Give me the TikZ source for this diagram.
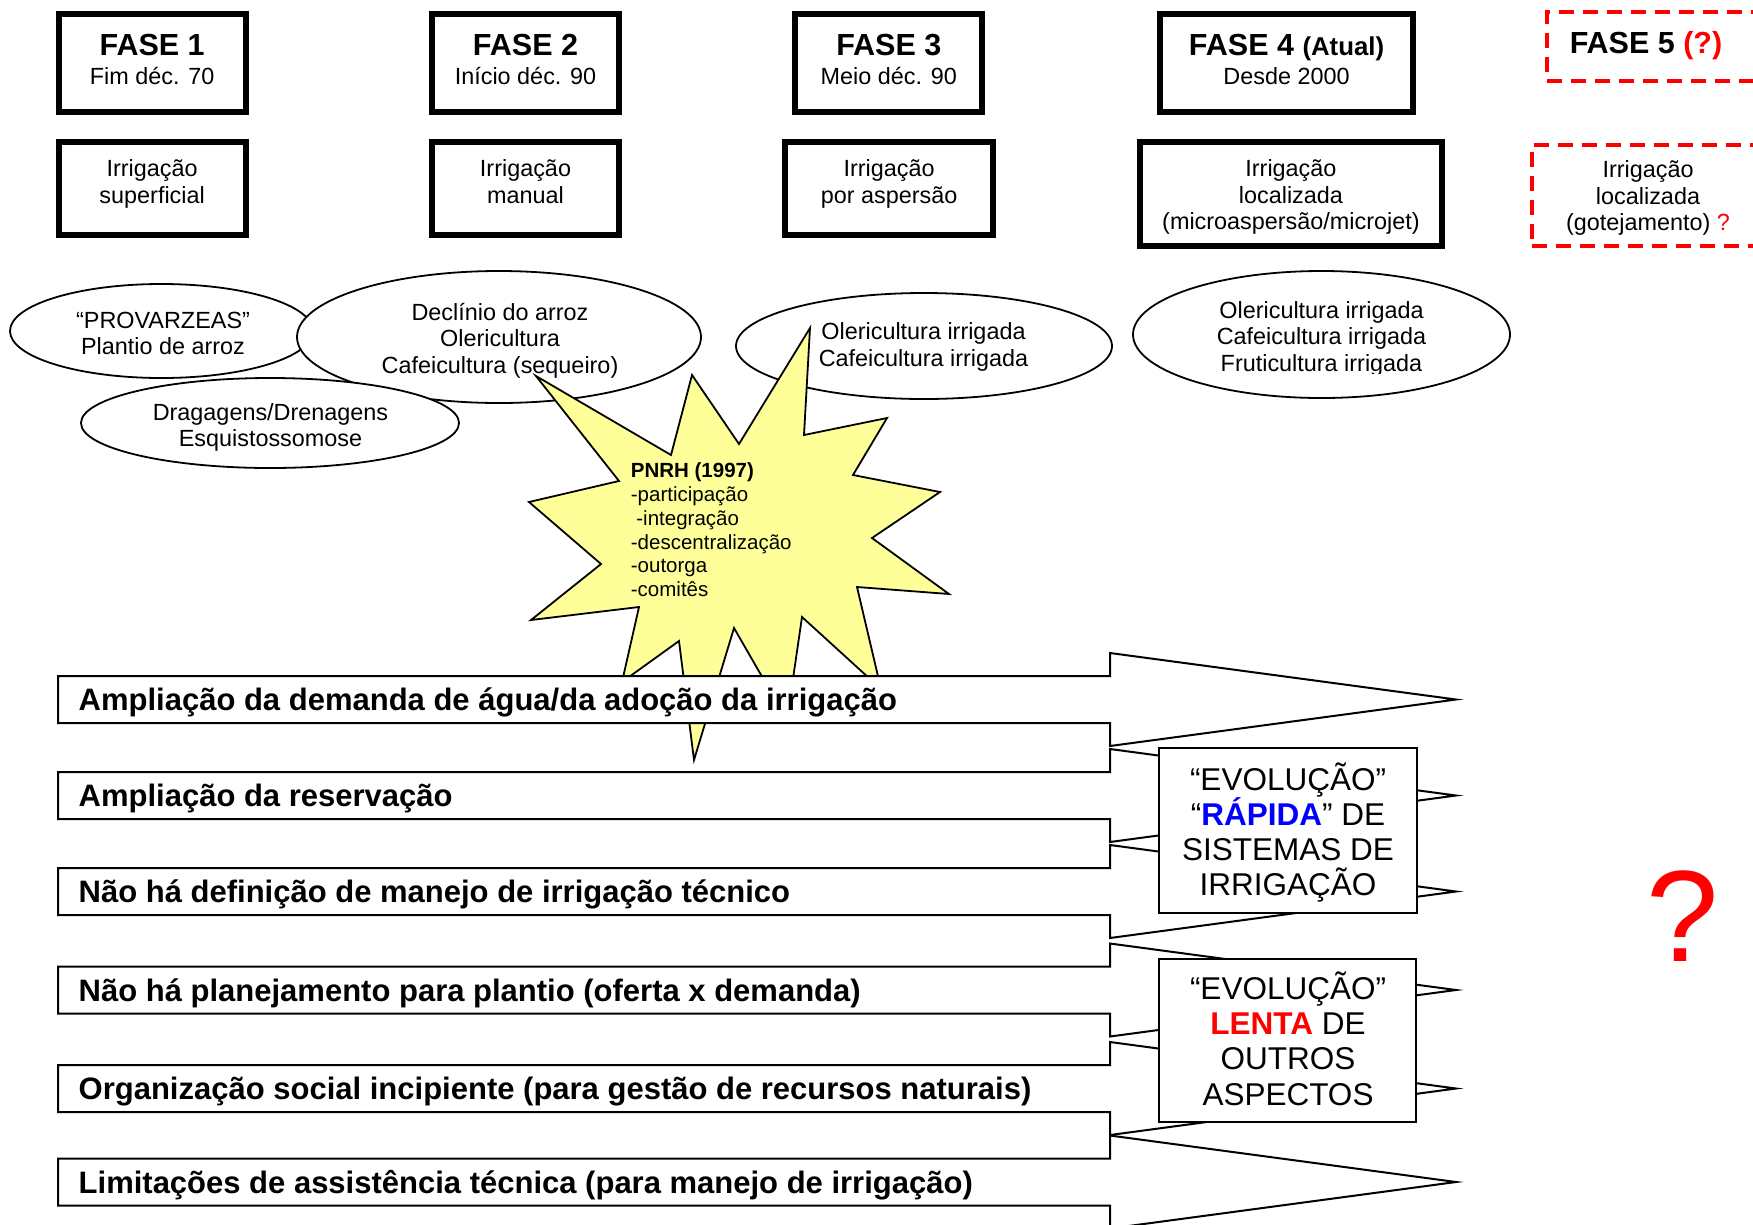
\documentclass[tikz,border=0pt]{standalone}
\usepackage{fontspec}
\setmainfont{Liberation Sans}
\usetikzlibrary{shapes.geometric}
\definecolor{burstfill}{RGB}{255,255,153}
\definecolor{alertred}{RGB}{255,0,0}
\definecolor{fastblue}{RGB}{0,0,255}
% font size helper (sizes in pt)
\newcommand\fsz[2]{\fontsize{#1pt}{#2pt}\selectfont}
% stacked lines, centred or left aligned, whose baseline is that of the first line
\newcommand\cstack[1]{\vtop{\lineskiplimit=-1000pt\halign{\hfil##\hfil\cr#1\crcr}}}
\newcommand\lstack[1]{\vtop{\lineskiplimit=-1000pt\halign{##\hfil\cr#1\crcr}}}
\tikzset{
  phasebox/.style={draw, line width=6pt, inner sep=0pt},
  futurebox/.style={draw=alertred, line width=4pt, dash pattern=on 15pt off 9pt, inner sep=0pt},
  bubble/.style={ellipse, draw, line width=1.8pt, fill=white, inner sep=0pt},
  burstshape/.style={draw, line width=1.8pt, fill=burstfill, line join=miter, miter limit=6},
  barshape/.style={draw, line width=2pt, fill=white, line join=miter},
  evobox/.style={draw, line width=2pt, fill=white, inner sep=0pt},
  txt/.style={inner sep=0pt, anchor=base},
  phasetext/.style={txt, font=\fsz{23.4}{29}},
  boxtext/.style={txt, font=\fsz{23.4}{26.6}},
  bubbletext/.style={txt, font=\fsz{23.4}{26.6}},
  bursttext/.style={inner sep=0pt, anchor=base west, font=\fsz{20.5}{23.8}},
  bartext/.style={inner sep=0pt, anchor=base west, font=\fsz{31}{36}\bfseries},
  evotext/.style={txt, font=\fsz{31.5}{35.3}},
}
% long arrow with its caption: #1 centre line, #2 node name, #3 caption
\newcommand\drawbar[3]{%
  \draw[barshape] (58,#1-23.5) -- (1110,#1-23.5) -- (1110,#1-46.5) -- (1456,#1)
    -- (1110,#1+46.5) -- (1110,#1+23.5) -- (58,#1+23.5) -- cycle;
  \node[bartext] (#2) at (78.5,#1+11) {#3};}
\begin{document}
\begin{tikzpicture}[x=1pt,y=-1pt]
\useasboundingbox (0,0) rectangle (1753,1224);
\clip (0,0) rectangle (1753,1224);

% phase headers
\node[phasebox, minimum width=186.9pt, minimum height=98pt] (b1) at (152.15,63) {};
\node[phasebox, minimum width=186.9pt, minimum height=98pt] (b2) at (525.5,63) {};
\node[phasebox, minimum width=186.9pt, minimum height=98pt] (b3) at (888.8,63) {};
\node[phasebox, minimum width=252.5pt, minimum height=98pt] (b4) at (1286.55,63) {};
\node[futurebox, minimum width=243pt, minimum height=69pt] (b5) at (1668.5,46.5) {};
\node[phasetext] (b1t) at (152.15,55) {\cstack{{\fsz{30.5}{34}\bfseries FASE 1}\cr Fim déc. 70}};
\node[phasetext] (b2t) at (525.5,55) {\cstack{{\fsz{30.5}{34}\bfseries FASE 2}\cr Início déc. 90}};
\node[phasetext] (b3t) at (888.8,55) {\cstack{{\fsz{30.5}{34}\bfseries FASE 3}\cr Meio déc. 90}};
\node[phasetext] (b4t) at (1286.55,55) {\cstack{{\fsz{30.5}{34}\bfseries FASE 4 {\fsz{25.8}{30}(Atual)}}\cr Desde 2000}};
\node[txt, font=\fsz{30.5}{34}\bfseries] (b5t) at (1646,53) {FASE 5 {\color{alertred}(?)}};

% irrigation systems
\node[phasebox, minimum width=186.9pt, minimum height=93pt] (c1) at (152.15,188.8) {};
\node[phasebox, minimum width=186.9pt, minimum height=93pt] (c2) at (525.5,188.8) {};
\node[phasebox, minimum width=207.4pt, minimum height=93pt] (c3) at (889.1,188.8) {};
\node[phasebox, minimum width=302.5pt, minimum height=104pt] (c4) at (1290.95,194.3) {};
\node[futurebox, minimum width=258pt, minimum height=101pt] (c5) at (1661,195.5) {};
\node[boxtext] (c1t) at (152.15,176.5) {\cstack{Irrigação\cr superficial}};
\node[boxtext] (c2t) at (525.5,176.5) {\cstack{Irrigação\cr manual}};
\node[boxtext] (c3t) at (889.1,176.5) {\cstack{Irrigação\cr por aspersão}};
\node[boxtext] (c4t) at (1290.95,176.5) {\cstack{Irrigação\cr localizada\cr (microaspersão/microjet)}};
\node[boxtext] (c5t) at (1648,177.5) {\cstack{Irrigação\cr localizada\cr (gotejamento) {\color{alertred}?}}};

% crops and events
\node[bubble, minimum width=303pt, minimum height=94pt] (e1) at (161.5,331) {};
\node[bubbletext] (e1t) at (163,328) {\cstack{“PROVARZEAS”\cr Plantio de arroz}};
\node[bubble, minimum width=404pt, minimum height=132pt] (e2) at (499,337) {};
\node[bubbletext] (e2t) at (500,320) {\cstack{Declínio do arroz\cr Olericultura\cr Cafeicultura (sequeiro)}};
\node[bubble, minimum width=378pt, minimum height=90pt] (e3) at (270,423) {};
\node[bubbletext] (e3t) at (270.5,420) {\cstack{Dragagens/Drenagens\cr Esquistossomose}};
\node[bubble, minimum width=376pt, minimum height=106pt] (e4) at (924,346) {};
\node[bubbletext] (e4t) at (923.5,339.5) {\cstack{Olericultura irrigada\cr Cafeicultura irrigada}};
\node[bubble, minimum width=377pt, minimum height=127pt] (e5) at (1321.5,334.5) {};
\begin{scope}
  \clip (1130,290) rectangle (1515,373.5);
  \node[bubbletext] (e5t) at (1321.5,318.3) {\cstack{Olericultura irrigada\cr Cafeicultura irrigada\cr Fruticultura irrigada}};
\end{scope}

% water policy burst
\draw[burstshape] (536,376) -- (671,455) -- (692,375) -- (739,444) -- (810,328)
  -- (804,435) -- (887,418) -- (853,475) -- (940,492) -- (872,538) -- (949,594)
  -- (857,587) -- (881,689) -- (802,617) -- (787,720) -- (734,628) -- (694,760)
  -- (679,641) -- (622,682) -- (639,607) -- (531,620) -- (601,564) -- (529,502)
  -- (619,481) -- cycle;
\node[bursttext] (pnrh) at (630.7,477.7) {\lstack{\textbf{PNRH (1997)}\cr -participação\cr \kern5.5pt-integração\cr -descentralização\cr -outorga\cr -comitês}};

% trends
\drawbar{699.5}{r1}{Ampliação da demanda de água/da adoção da irrigação}
\drawbar{795.5}{r2}{Ampliação da reservação}
\drawbar{891.5}{r3}{Não há definição de manejo de irrigação técnico}
\drawbar{990}{r4}{Não há planejamento para plantio (oferta x demanda)}
\drawbar{1088.5}{r5}{Organização social incipiente (para gestão de recursos naturais)}
\drawbar{1182}{r6}{Limitações de assistência técnica (para manejo de irrigação)}

% pace of change
\node[evobox, minimum width=257.7pt, minimum height=165pt] (fast) at (1287.85,830.8) {};
\node[evotext] (fastt) at (1288,790) {\cstack{“EVOLUÇÃO”\cr “{\bfseries\color{fastblue}RÁPIDA}” DE\cr SISTEMAS DE\cr IRRIGAÇÃO}};
\node[evobox, minimum width=257pt, minimum height=163pt] (slow) at (1287.5,1040.8) {};
\node[evotext] (slowt) at (1288,999.3) {\cstack{“EVOLUÇÃO”\cr {\bfseries\color{alertred}LENTA} DE\cr OUTROS\cr ASPECTOS}};

\node[txt, font=\fsz{130}{150}, text=alertred] (qm) at (1682.5,961) {?};
\end{tikzpicture}
\end{document}
